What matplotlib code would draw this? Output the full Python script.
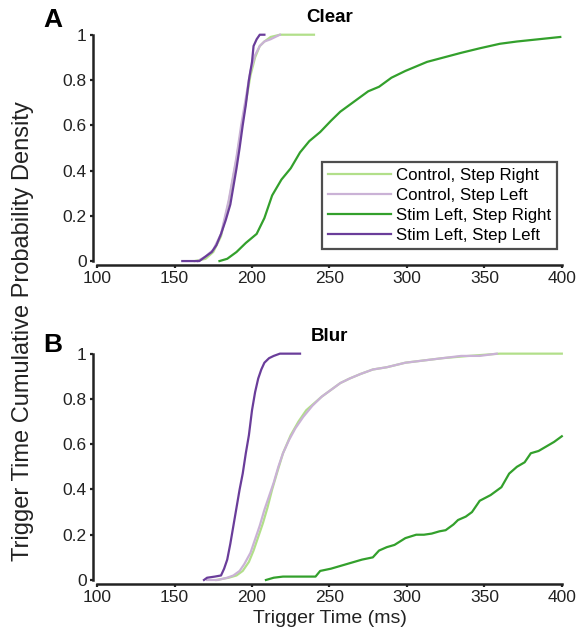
import matplotlib
matplotlib.use('Agg')
import matplotlib.pyplot as plt

plt.rcParams['font.family'] = ['Liberation Sans', 'DejaVu Sans']

# Цвета серий
c_ctrl_right = '#b2df8a'
c_ctrl_left = '#cab2d6'
c_stim_right = '#33a02c'
c_stim_left = '#6a3d9a'

labels = ['Control, Step Right', 'Control, Step Left', 'Stim Left, Step Right', 'Stim Left, Step Left']

# Панель A (Clear): время срабатывания (мс) и кумулятивная вероятность
a_ctrl_right_t = [163, 170, 175, 180, 185, 190, 193, 196, 199, 202, 205, 208, 212, 218, 225, 240]
a_ctrl_right_p = [0.0, 0.01, 0.04, 0.11, 0.26, 0.45, 0.58, 0.7, 0.82, 0.9, 0.95, 0.97, 0.99, 1.0, 1.0, 1.0]
a_ctrl_left_t = [165, 170, 175, 180, 185, 190, 193, 196, 199, 202, 205, 208, 212, 218]
a_ctrl_left_p = [0.0, 0.02, 0.05, 0.12, 0.27, 0.46, 0.6, 0.72, 0.84, 0.91, 0.95, 0.97, 0.98, 1.0]
a_stim_right_t = [179, 184, 190, 196, 203, 208, 213, 219, 225, 231, 237, 244, 251, 257, 263, 269, 275, 282,
                  290, 299, 306, 313, 324, 335, 347, 360, 371, 385, 399]
a_stim_right_p = [0.0, 0.01, 0.04, 0.08, 0.12, 0.19, 0.29, 0.36, 0.41, 0.48, 0.53, 0.57, 0.62, 0.66, 0.69,
                  0.72, 0.75, 0.77, 0.81, 0.84, 0.86, 0.88, 0.9, 0.92, 0.94, 0.96, 0.97, 0.98, 0.99]
a_stim_left_t = [155, 162, 166, 170, 174, 177, 180, 183, 186, 188, 190, 192, 194, 196, 198, 200, 201, 203, 205, 208]
a_stim_left_p = [0.0, 0.0, 0.0, 0.02, 0.04, 0.07, 0.12, 0.18, 0.25, 0.33, 0.41, 0.5, 0.6, 0.69, 0.8, 0.88,
                 0.95, 0.98, 1.0, 1.0]

# Панель B (Blur)
b_ctrl_right_t = [177, 185, 190, 194, 198, 201, 204, 207, 210, 213, 216, 220, 225, 230, 235, 240, 245, 251,
                  257, 263, 270, 278, 287, 299, 311, 323, 340, 360, 380, 400]
b_ctrl_right_p = [0.0, 0.01, 0.02, 0.04, 0.08, 0.13, 0.19, 0.25, 0.32, 0.4, 0.47, 0.56, 0.64, 0.7, 0.75, 0.78,
                  0.81, 0.84, 0.87, 0.89, 0.91, 0.93, 0.94, 0.96, 0.97, 0.98, 0.99, 1.0, 1.0, 1.0]
b_ctrl_left_t = [171, 178, 184, 188, 192, 195, 199, 202, 205, 208, 211, 214, 217, 220, 224, 228, 233, 239,
                 245, 251, 257, 263, 270, 278, 287, 299, 311, 323, 335, 347, 358]
b_ctrl_left_p = [0.0, 0.0, 0.01, 0.02, 0.04, 0.07, 0.12, 0.18, 0.24, 0.31, 0.37, 0.43, 0.5, 0.56, 0.62, 0.67,
                 0.72, 0.77, 0.81, 0.84, 0.87, 0.89, 0.91, 0.93, 0.94, 0.96, 0.97, 0.98, 0.99, 0.99, 1.0]
b_stim_right_t = [209, 214, 220, 230, 241, 244, 251, 256, 261, 266, 271, 278, 282, 287, 292, 299, 306, 311,
                  316, 321, 325, 330, 333, 338, 342, 347, 354, 361, 366, 371, 376, 380, 385, 390, 395, 400]
b_stim_right_p = [0.0, 0.01, 0.015, 0.015, 0.015, 0.04, 0.05, 0.06, 0.07, 0.08, 0.09, 0.1, 0.13, 0.145, 0.155,
                  0.185, 0.2, 0.2, 0.205, 0.215, 0.22, 0.245, 0.265, 0.28, 0.3, 0.35, 0.375, 0.41, 0.47, 0.5,
                  0.52, 0.56, 0.57, 0.59, 0.61, 0.635]
b_stim_left_t = [169, 171, 176, 180, 182, 184, 186, 188, 190, 192, 194, 196, 198, 200, 202, 204, 206, 208,
                 211, 214, 218, 224, 231]
b_stim_left_p = [0.0, 0.01, 0.015, 0.02, 0.05, 0.09, 0.16, 0.24, 0.32, 0.4, 0.47, 0.56, 0.64, 0.75, 0.83,
                 0.89, 0.93, 0.96, 0.98, 0.99, 1.0, 1.0, 1.0]

panels = [
    ('A', 'Clear', 1.066, [(a_ctrl_right_t, a_ctrl_right_p, c_ctrl_right),
                           (a_ctrl_left_t, a_ctrl_left_p, c_ctrl_left),
                           (a_stim_right_t, a_stim_right_p, c_stim_right),
                           (a_stim_left_t, a_stim_left_p, c_stim_left)]),
    ('B', 'Blur', 1.04, [(b_ctrl_right_t, b_ctrl_right_p, c_ctrl_right),
                         (b_ctrl_left_t, b_ctrl_left_p, c_ctrl_left),
                         (b_stim_right_t, b_stim_right_p, c_stim_right),
                         (b_stim_left_t, b_stim_left_p, c_stim_left)]),
]

fig = plt.figure(figsize=(5.78, 6.43), dpi=100)
axes = [fig.add_axes([0.168, 0.594, 0.804, 0.352]),
        fig.add_axes([0.168, 0.098, 0.804, 0.352])]

for ax, (letter, title, ly, series) in zip(axes, panels):
    for (t, p, col), lab in zip(series, labels):
        ax.plot(t, p, color=col, linewidth=1.6, label=lab, clip_on=False)
    ax.set_xlim(100, 400)
    ax.set_ylim(0, 1)
    ax.set_xticks([100, 150, 200, 250, 300, 350, 400])
    ax.set_yticks([0, 0.2, 0.4, 0.6, 0.8, 1])
    ax.set_yticklabels(['0', '0.2', '0.4', '0.6', '0.8', '1'])
    for s in ['top', 'right']:
        ax.spines[s].set_visible(False)
    for s in ['left', 'bottom']:
        ax.spines[s].set_position(('outward', 3))
        ax.spines[s].set_linewidth(1.8)
        ax.spines[s].set_color('#222222')
    ax.spines['left'].set_bounds(0, 1)
    ax.spines['bottom'].set_bounds(100, 400)
    ax.tick_params(direction='out', length=2.5, width=1.6, color='#222222',
                   labelsize=12.5, labelcolor='#222222', pad=2)
    ax.set_title(title, fontsize=13.5, fontweight='bold', pad=9)
    ax.text(-0.095, ly, letter, transform=ax.transAxes, fontsize=19, fontweight='bold',
            ha='center', va='center')

leg = axes[0].legend(loc='lower right', bbox_to_anchor=(1.0, 0.03), fontsize=12.2, frameon=True,
                     fancybox=False, handlelength=3.7, handletextpad=0.3, borderpad=0.35,
                     labelspacing=0.3, borderaxespad=0.3)
leg.get_frame().set_edgecolor('#222222')
leg.get_frame().set_linewidth(1.6)

axes[1].set_xlabel('Trigger Time (ms)', fontsize=14, color='#222222', labelpad=3)
fig.text(0.04, 0.485, 'Trigger Time Cumulative Probability Density', rotation=90,
         fontsize=17, color='#222222', ha='center', va='center')

plt.savefig('out.png', dpi=100)
plt.close()
